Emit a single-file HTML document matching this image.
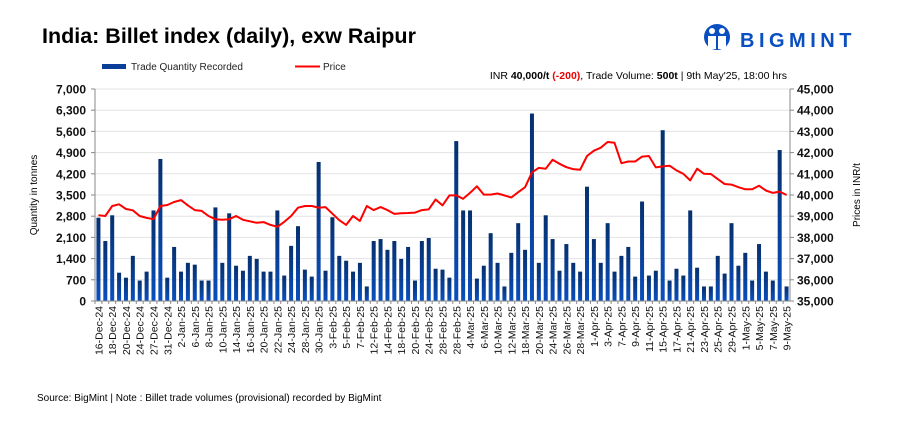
<!DOCTYPE html>
<html><head><meta charset="utf-8"><style>
html,body{margin:0;padding:0;background:#fff;width:898px;height:430px;overflow:hidden;font-family:"Liberation Sans",Arial,sans-serif}
</style></head><body>
<svg id="chart" width="898" height="430" xmlns="http://www.w3.org/2000/svg" font-family="Liberation Sans, Arial, sans-serif">
<defs><linearGradient id="bg" x1="0" y1="0" x2="0" y2="1"><stop offset="0" stop-color="#06306e"/><stop offset="1" stop-color="#0a4fbf"/></linearGradient></defs>
<text x="42" y="43" font-size="21.5" font-weight="bold" fill="#000">India: Billet index (daily), exw Raipur</text>
<g>
<circle cx="717" cy="37" r="13" fill="#0a4fbf"/>
<circle cx="712" cy="31" r="3" fill="#fff"/><circle cx="722" cy="31" r="3" fill="#fff"/>
<path d="M708 36h8v13h-8zM718 36h8v13h-8z" fill="#fff"/>
<text x="740" y="47" font-size="20" font-weight="bold" fill="#0a4fbf" letter-spacing="4.5">BIGMINT</text>
</g>
<g>
<rect x="102" y="64" width="24" height="5" fill="#0a3f99"/>
<text x="131" y="70" font-size="10" fill="#222">Trade Quantity Recorded</text>
<line x1="295" y1="66.5" x2="320" y2="66.5" stroke="#f00" stroke-width="2"/>
<text x="323" y="70" font-size="10" fill="#222">Price</text>
</g>
<text x="787" y="79" text-anchor="end" font-size="10.5" fill="#000">INR <tspan font-weight="bold">40,000/t</tspan> <tspan font-weight="bold" fill="#e00">(-200)</tspan>, Trade Volume: <tspan font-weight="bold">500t</tspan>  | 9th May'25, 18:00 hrs</text>
<g id="grid"></g><g id="bars"></g><g id="line"></g><g id="axes"></g>
<text transform="translate(37,195) rotate(-90)" text-anchor="middle" font-size="10" fill="#000">Quantity in tonnes</text>
<text transform="translate(860,195) rotate(-90)" text-anchor="middle" font-size="10" fill="#000">Prices in INR/t</text>
<text x="37" y="401" font-size="10" fill="#000">Source: BigMint | Note : Billet trade volumes (provisional) recorded by BigMint</text>
</svg>
<script>
const labels=["16-Dec-24","18-Dec-24","20-Dec-24","24-Dec-24","27-Dec-24","31-Dec-24","2-Jan-25","6-Jan-25","8-Jan-25","10-Jan-25","14-Jan-25","16-Jan-25","20-Jan-25","22-Jan-25","24-Jan-25","28-Jan-25","30-Jan-25","3-Feb-25","5-Feb-25","7-Feb-25","12-Feb-25","14-Feb-25","18-Feb-25","20-Feb-25","24-Feb-25","28-Feb-25","28-Feb-25","4-Mar-25","6-Mar-25","10-Mar-25","12-Mar-25","18-Mar-25","20-Mar-25","24-Mar-25","26-Mar-25","28-Mar-25","1-Apr-25","3-Apr-25","7-Apr-25","9-Apr-25","11-Apr-25","15-Apr-25","17-Apr-25","21-Apr-25","23-Apr-25","25-Apr-25","29-Apr-25","1-May-25","5-May-25","7-May-25","9-May-25"];
const quantity=[2750,1980,2830,935,770,1490,675,970,2990,4690,770,1785,970,1260,1200,675,675,3090,1260,2895,1165,1000,1490,1390,970,970,2990,840,1820,2470,1035,805,4590,1000,2765,1490,1330,970,1260,480,1980,2045,1690,1980,1390,1785,675,1980,2080,1065,1035,
770,5280,2990,2990,740,1165,2240,1260,480,1590,2570,1690,6190,1260,2830,2045,1000,1880,1260,970,3775,2045,1260,2570,970,1490,1785,805,3285,840,1000,5640,675,1065,840,2990,1100,480,480,1490,905,2570,1165,1590,675,1880,970,675,4985,480];
const price=[39045,39010,39480,39560,39340,39280,39010,38920,38860,39480,39530,39670,39760,39510,39290,39250,39010,38860,38830,38860,39010,38830,38760,38690,38720,38590,38500,38730,39010,39400,39480,39480,39400,39430,39120,38810,38590,39010,38780,39480,39290,39430,39290,39110,39140,39150,39170,39290,39320,39790,39510,
39980,39980,39820,40100,40410,40020,40020,40070,39980,39880,40130,40370,41070,41280,41240,41660,41470,41310,41220,41190,41840,42090,42230,42500,42460,41500,41580,41580,41810,41840,41300,41350,41380,41160,41000,40690,41240,41000,40990,40750,40520,40490,40370,40270,40270,40440,40210,40100,40160,40000];
const leftTicks=[0,700,1400,2100,2800,3500,4200,4900,5600,6300,7000];
const rightTicks=[35000,36000,37000,38000,39000,40000,41000,42000,43000,44000,45000];
const NS="http://www.w3.org/2000/svg";
const L=95,R=790,T=89,B=301;
const n=quantity.length, step=(R-L)/n;
const xc=i=>L+step*(i+0.5);
const yl=v=>B-(v/7000)*(B-T);
const yr=v=>B-((v-35000)/10000)*(B-T);
function mk(tag,attrs,parent){const e=document.createElementNS(NS,tag);for(const k in attrs)e.setAttribute(k,attrs[k]);parent.appendChild(e);return e;}
const grid=document.getElementById('grid'),bars=document.getElementById('bars'),line=document.getElementById('line'),axes=document.getElementById('axes');
leftTicks.forEach(v=>{
 const y=yl(v);
 if(v>0){const g=mk('line',{x1:L,x2:R,y1:y,y2:y,stroke:'#e3e3e3','stroke-width':1},grid);
 
 }
 mk('line',{x1:L-4,x2:L,y1:y,y2:y,stroke:'#888'},axes);
 const t=mk('text',{x:L-9,y:y+4.5,'text-anchor':'end','font-size':12,'font-weight':'bold',fill:'#111'},axes);
 t.textContent=v.toLocaleString('en-US');
 
 
});
rightTicks.forEach(v=>{
 const y=yr(v);
 mk('line',{x1:R,x2:R+4,y1:y,y2:y,stroke:'#888'},axes);
 const t=mk('text',{x:R+7,y:y+4.5,'font-size':12,'font-weight':'bold',fill:'#111'},axes);
 t.textContent=v.toLocaleString('en-US');
 
 
});
mk('line',{x1:L,x2:L,y1:T,y2:B,stroke:'#888'},axes);
mk('line',{x1:R,x2:R,y1:T,y2:B,stroke:'#888'},axes);
mk('line',{x1:L,x2:R,y1:B,y2:B,stroke:'#888'},axes);
quantity.forEach((v,i)=>{
 const b=mk('rect',{x:xc(i)-2,y:yl(v),width:4,height:B-yl(v),fill:'url(#bg)'},bars);
 
 
});
for(let i=0;i<n;i++){mk('line',{x1:L+step*i,x2:L+step*i,y1:B,y2:B+3,stroke:'#888'},axes);}
const p=mk('polyline',{points:price.map((v,i)=>xc(i).toFixed(1)+','+yr(v).toFixed(1)).join(' '),fill:'none',stroke:'#f00','stroke-width':2,'stroke-linejoin':'round'},line);


labels.forEach((s,j)=>{
 const x=xc(j*2);
 const t=mk('text',{transform:`translate(${x+4},${B+5}) rotate(-90)`,'text-anchor':'end','font-size':10.5,fill:'#111'},axes);
 t.textContent=s;
 
 
});
</script>
</body></html>
